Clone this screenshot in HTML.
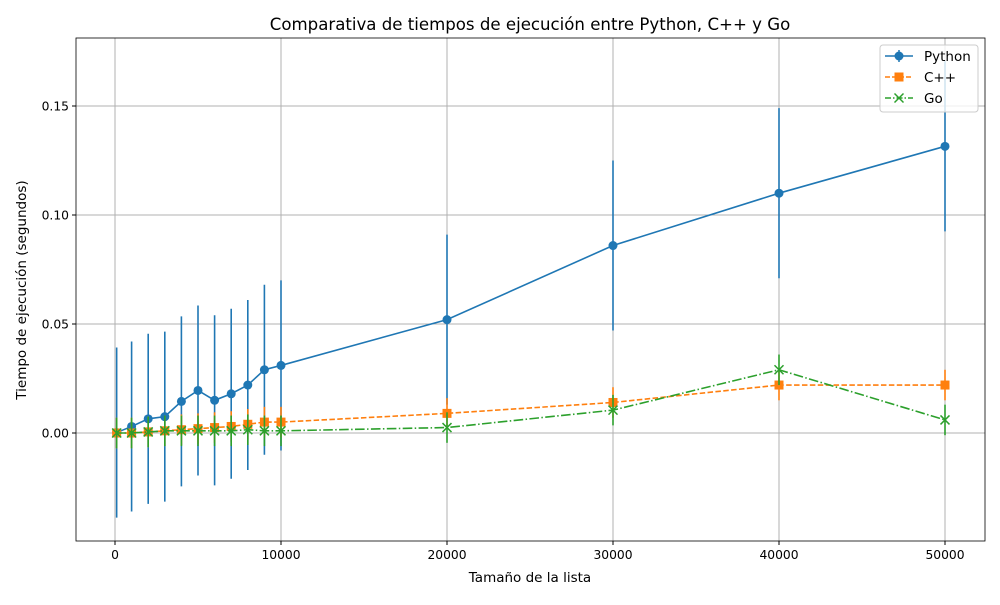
<!DOCTYPE html>
<html><head><meta charset="utf-8"><style>
body{margin:0;background:#fff;font-family:"Liberation Sans","DejaVu Sans",sans-serif}
svg text{font-family:"DejaVu Sans","Liberation Sans",sans-serif}
</style></head><body>
<svg id="chart" width="1000" height="600" xmlns="http://www.w3.org/2000/svg">
<rect width="1000" height="600" fill="#fff"/>
<g id="grid"></g><g id="series"></g><g id="axes"></g>
<text x="530" y="30" font-size="16.6" text-anchor="middle">Comparativa de tiempos de ejecución entre Python, C++ y Go</text>
<text x="530" y="582" font-size="13.5" text-anchor="middle">Tamaño de la lista</text>
<text transform="translate(26,290) rotate(-90)" font-size="13.5" text-anchor="middle">Tiempo de ejecución (segundos)</text>
<g id="legend">
<rect x="880" y="45" width="98" height="67" rx="3" fill="#fff" fill-opacity="0.8" stroke="#ccc"/>
<line x1="885" y1="56" x2="913" y2="56" stroke="#1f77b4" stroke-width="1.5"/><circle cx="899" cy="56" r="4.5" fill="#1f77b4"/><line x1="899" y1="50" x2="899" y2="62" stroke="#1f77b4" stroke-width="1.5"/>
<text x="924" y="61" font-size="13.5">Python</text>
<line x1="885" y1="77" x2="913" y2="77" stroke="#ff7f0e" stroke-width="1.5" stroke-dasharray="5,2"/><rect x="894.5" y="72.5" width="9" height="9" fill="#ff7f0e"/>
<text x="924" y="82" font-size="13.5">C++</text>
<line x1="885" y1="98" x2="913" y2="98" stroke="#2ca02c" stroke-width="1.5" stroke-dasharray="6,2,1.5,2"/><path d="M894.5,93.5L903.5,102.5M894.5,102.5L903.5,93.5" stroke="#2ca02c" stroke-width="1.5"/>
<text x="924" y="103" font-size="13.5">Go</text>
</g>
</svg>
<script>
const sizes=[100,1000,2000,3000,4000,5000,6000,7000,8000,9000,10000,20000,30000,40000,50000];
const pythonVals=[0.0002,0.003,0.0065,0.0075,0.0145,0.0195,0.015,0.018,0.022,0.029,0.031,0.052,0.086,0.110,0.1315];
const pythonErr=[0.039,0.039,0.039,0.039,0.039,0.039,0.039,0.039,0.039,0.039,0.039,0.039,0.039,0.039,0.039];
const cppVals=[0,0,0.0005,0.001,0.0015,0.002,0.0025,0.003,0.004,0.005,0.005,0.009,0.014,0.022,0.022];
const cppErr=[0.007,0.007,0.007,0.007,0.007,0.007,0.007,0.007,0.007,0.007,0.007,0.007,0.007,0.007,0.007];
const goVals=[0,0,0.0005,0.001,0.001,0.001,0.001,0.001,0.0015,0.001,0.001,0.0025,0.0105,0.029,0.006];
const goErr=[0.007,0.007,0.007,0.007,0.007,0.007,0.007,0.007,0.007,0.007,0.007,0.007,0.007,0.007,0.007];
const xTicks=[0,10000,20000,30000,40000,50000];
const yTicks=[0,0.05,0.10,0.15];
const yTickLabels=["0.00","0.05","0.10","0.15"];
const L=76,R=985,T=38,B=541;
const xs=v=>115+v*(830/50000);
const ys=v=>433-v*(109/0.05);
const NS="http://www.w3.org/2000/svg";
function mk(parent,tag,attrs){const e=document.createElementNS(NS,tag);for(const k in attrs)e.setAttribute(k,attrs[k]);parent.appendChild(e);return e;}
const grid=document.getElementById('grid'),axes=document.getElementById('axes'),ser=document.getElementById('series');
xTicks.forEach(t=>{const x=xs(t);
 const g=mk(grid,'line',{x1:x,x2:x,y1:T,y2:B,stroke:'#b0b0b0','stroke-width':1});
 
 
 mk(axes,'line',{x1:x,x2:x,y1:B,y2:B+4,stroke:'#000'});
 const tx=mk(axes,'text',{x:x,y:B+18,'font-size':12.3,'text-anchor':'middle'});tx.textContent=t;
 
 
});
yTicks.forEach((t,i)=>{const y=ys(t);
 const g=mk(grid,'line',{x1:L,x2:R,y1:y,y2:y,stroke:'#b0b0b0','stroke-width':1});
 
 
 mk(axes,'line',{x1:L-4,x2:L,y1:y,y2:y,stroke:'#000'});
 const tx=mk(axes,'text',{x:L-7,y:y+4.5,'font-size':12.3,'text-anchor':'end'});tx.textContent=yTickLabels[i];
 
 
});
const frame=mk(axes,'rect',{x:L,y:T,width:R-L,height:B-T,fill:'none',stroke:'#000','stroke-width':0.8});


function series(vals,errs,color,dash,marker,name){
 const g=mk(ser,'g',{});
 
 
 vals.forEach((v,i)=>{const x=xs(sizes[i]);
  const e=mk(g,'line',{x1:x,x2:x,y1:ys(v-errs[i]),y2:ys(v+errs[i]),stroke:color,'stroke-width':1.6});
  
  
 });
 const p=mk(g,'polyline',{points:vals.map((v,i)=>xs(sizes[i])+','+ys(v)).join(' '),fill:'none',stroke:color,'stroke-width':1.6,'stroke-dasharray':dash});
 
 
 vals.forEach((v,i)=>{const x=xs(sizes[i]),y=ys(v);let m;
  if(marker==='o')m=mk(g,'circle',{cx:x,cy:y,r:4.5,fill:color});
  else if(marker==='s')m=mk(g,'rect',{x:x-4.5,y:y-4.5,width:9,height:9,fill:color});
  else m=mk(g,'path',{d:`M${x-4.5},${y-4.5}L${x+4.5},${y+4.5}M${x-4.5},${y+4.5}L${x+4.5},${y-4.5}`,stroke:color,'stroke-width':1.5});
  
  
 });
}
series(pythonVals,pythonErr,'#1f77b4','none','o','python');
series(cppVals,cppErr,'#ff7f0e','5.5,2.4','s','cpp');
series(goVals,goErr,'#2ca02c','9.6,2.4,1.5,2.4','x','go');
</script>
</body></html>
